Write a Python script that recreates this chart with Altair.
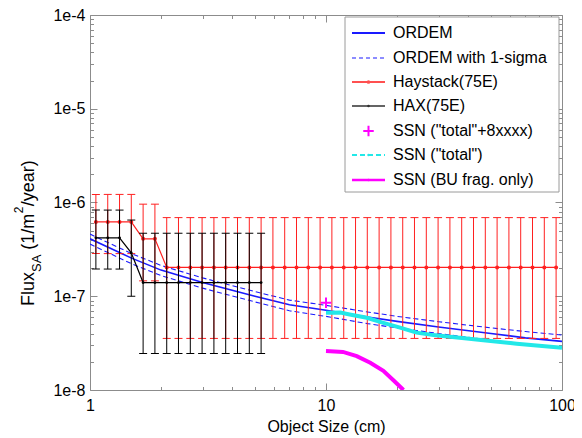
import altair as alt
import pandas as pd

FONT = "Liberation Sans"
W, H = 472, 375
GRAY = "#8c8c8c"
RED = "#ff2020"
BLUE = "#1a1aff"
CYAN = "#22e8e8"
MAGENTA = "#ff00ff"

# ---------------- data ----------------
bin_size = [1.059, 1.189, 1.334, 1.496, 1.679, 1.884, 2.114, 2.371, 2.661, 2.985,
            3.350, 3.758, 4.217, 4.732, 5.309, 5.957, 6.683, 7.499, 8.414, 9.441,
            10.59, 11.89, 13.34, 14.96, 16.79, 18.84, 21.14, 23.71, 26.61, 29.85,
            33.50, 37.58, 42.17, 47.32, 53.09, 59.57, 66.83, 74.99, 84.14, 94.41]

hay_flux = [6.2e-7, 6.2e-7, 6.2e-7, 6.2e-7, 4.1e-7, 4.1e-7, 2.03e-7, 2.03e-7, 2.03e-7, 2.03e-7,
            2.03e-7, 2.03e-7, 2.03e-7, 2.03e-7, 2.03e-7, 2.03e-7, 2.03e-7, 2.03e-7, 2.03e-7, 2.03e-7,
            2.03e-7, 2.03e-7, 2.03e-7, 2.03e-7, 2.03e-7, 2.03e-7, 2.03e-7, 2.03e-7, 2.03e-7, 2.03e-7,
            2.03e-7, 2.03e-7, 2.03e-7, 2.03e-7, 2.03e-7, 2.03e-7, 2.03e-7, 2.03e-7, 2.03e-7, 2.03e-7]
hay_lo = [2.85e-7, 2.85e-7, 2.85e-7, 2.85e-7, 1.46e-7, 1.46e-7, 3.55e-8, 3.55e-8, 3.55e-8, 3.55e-8,
          3.55e-8, 3.55e-8, 3.55e-8, 3.55e-8, 3.55e-8, 3.55e-8, 3.55e-8, 3.55e-8, 3.55e-8, 3.55e-8,
          3.55e-8, 3.55e-8, 3.55e-8, 3.55e-8, 3.55e-8, 3.55e-8, 3.55e-8, 3.55e-8, 3.55e-8, 3.55e-8,
          3.55e-8, 3.55e-8, 3.55e-8, 3.55e-8, 3.55e-8, 3.55e-8, 3.55e-8, 3.55e-8, 3.55e-8, 3.55e-8]
hay_hi = [1.22e-6, 1.22e-6, 1.22e-6, 1.22e-6, 9.6e-7, 9.6e-7, 6.9e-7, 6.9e-7, 6.9e-7, 6.9e-7,
          6.9e-7, 6.9e-7, 6.9e-7, 6.9e-7, 6.9e-7, 6.9e-7, 6.9e-7, 6.9e-7, 6.9e-7, 6.9e-7,
          6.9e-7, 6.9e-7, 6.9e-7, 6.9e-7, 6.9e-7, 6.9e-7, 6.9e-7, 6.9e-7, 6.9e-7, 6.9e-7,
          6.9e-7, 6.9e-7, 6.9e-7, 6.9e-7, 6.9e-7, 6.9e-7, 6.9e-7, 6.9e-7, 6.9e-7, 6.9e-7]

hax_size = [1.059, 1.189, 1.334, 1.496, 1.679, 1.884, 2.114, 2.371, 2.661, 2.985,
            3.350, 3.758, 4.217, 4.732, 5.309]
hax_flux = [4.2e-7, 4.2e-7, 4.2e-7, 2.9e-7, 1.4e-7, 1.4e-7, 1.4e-7, 1.4e-7, 1.4e-7, 1.4e-7,
            1.4e-7, 1.4e-7, 1.4e-7, 1.4e-7, 1.4e-7]
hax_lo = [1.95e-7, 1.95e-7, 1.95e-7, 1.0e-7, 2.45e-8, 2.45e-8, 2.45e-8, 2.45e-8, 2.45e-8, 2.45e-8,
          2.45e-8, 2.45e-8, 2.45e-8, 2.45e-8, 2.45e-8]
hax_hi = [8.3e-7, 8.3e-7, 8.3e-7, 6.5e-7, 4.7e-7, 4.7e-7, 4.7e-7, 4.7e-7, 4.7e-7, 4.7e-7,
          4.7e-7, 4.7e-7, 4.7e-7, 4.7e-7, 4.7e-7]

ordem_size = [1, 1.5, 2, 3, 5, 7, 10, 15, 20, 30, 50, 70, 100]
ordem_flux = [4.1e-7, 2.55e-7, 1.9e-7, 1.4e-7, 1.0e-7, 8.1e-8, 7.1e-8, 6.0e-8, 5.4e-8, 4.7e-8, 4.0e-8, 3.6e-8, 3.3e-8]
ordem_hi = [4.6e-7, 2.85e-7, 2.13e-7, 1.57e-7, 1.12e-7, 9.1e-8, 8.0e-8, 6.8e-8, 6.1e-8, 5.35e-8, 4.6e-8, 4.2e-8, 3.86e-8]
ordem_lo = [3.6e-7, 2.22e-7, 1.66e-7, 1.22e-7, 8.7e-8, 7.0e-8, 6.1e-8, 5.1e-8, 4.6e-8, 4.0e-8, 3.4e-8, 3.1e-8, 2.82e-8]

ssn_total_size = [10, 11.5, 12.6, 14.9, 17.5, 20.6, 24.2, 28.5, 33.5, 39.5, 46.4, 64.3, 100]
ssn_total_flux = [6.68e-8, 6.7e-8, 6.4e-8, 5.9e-8, 5.2e-8, 4.62e-8, 4.09e-8, 3.85e-8, 3.7e-8, 3.55e-8, 3.4e-8, 3.12e-8, 2.82e-8]

ssn_bu_size = [10, 11.8, 13.5, 15.4, 17.5, 19.3, 21.3]
ssn_bu_flux = [2.6e-8, 2.55e-8, 2.3e-8, 1.95e-8, 1.6e-8, 1.27e-8, 1.0e-8]

ssn_8x_size = [10]
ssn_8x_flux = [8.5e-8]

x_major = [1, 10, 100]
y_major = [1e-8, 1e-7, 1e-6, 1e-5, 1e-4]
x_ticks = [1, 2, 3, 4, 5, 6, 7, 8, 9, 10, 20, 30, 40, 50, 60, 70, 80, 90, 100]
y_ticks = [m * d for d in [1e-8, 1e-7, 1e-6, 1e-5] for m in range(1, 10)] + [1e-4]

legend_labels = ["ORDEM", "ORDEM with 1-sigma", "Haystack(75E)", "HAX(75E)",
                 "SSN (\"total\"+8xxxx)", "SSN (\"total\")", "SSN (BU frag. only)"]

# ---------------- scales ----------------
xs = alt.Scale(type="log", domain=[1, 100], nice=False)
ys = alt.Scale(type="log", domain=[1e-8, 1e-4], nice=False)


def X():
    return alt.X("s:Q", scale=xs, axis=None)


def Y(field="f"):
    return alt.Y(f"{field}:Q", scale=ys, axis=None)


hay = pd.DataFrame({"s": bin_size, "f": hay_flux, "lo": hay_lo, "hi": hay_hi})
hax = pd.DataFrame({"s": hax_size, "f": hax_flux, "lo": hax_lo, "hi": hax_hi})
ordem = pd.DataFrame({"s": ordem_size, "f": ordem_flux, "hi": ordem_hi, "lo": ordem_lo})
ssn_t = pd.DataFrame({"s": ssn_total_size, "f": ssn_total_flux})
ssn_bu = pd.DataFrame({"s": ssn_bu_size, "f": ssn_bu_flux})
ssn_8 = pd.DataFrame({"s": ssn_8x_size, "f": ssn_8x_flux})

layers = []

# ORDEM
layers.append(alt.Chart(ordem).mark_line(color=BLUE, strokeWidth=1.6, clip=True).encode(x=X(), y=Y("f")))
for fld in ["hi", "lo"]:
    layers.append(alt.Chart(ordem).mark_line(color=BLUE, strokeWidth=1.1, strokeDash=[5, 3], clip=True)
                  .encode(x=X(), y=Y(fld)))


def errorset(df, color, psize):
    out = []
    out.append(alt.Chart(df).mark_rule(color=color, strokeWidth=1, clip=True)
               .encode(x=X(), y=Y("lo"), y2="hi:Q"))
    for fld in ["lo", "hi"]:
        out.append(alt.Chart(df).mark_tick(color=color, orient="horizontal", size=8, thickness=1,
                                           opacity=1, clip=True)
                   .encode(x=X(), y=Y(fld)))
    out.append(alt.Chart(df).mark_line(color=color, strokeWidth=1.2, clip=True)
               .encode(x=X(), y=Y("f")))
    out.append(alt.Chart(df).mark_circle(color=color, size=psize, opacity=1, clip=True)
               .encode(x=X(), y=Y("f")))
    return out


layers += errorset(hay, RED, 16)
layers += errorset(hax, "black", 8)

PLUS = "M-1,0L1,0M0,-1L0,1"
layers.append(alt.Chart(ssn_8).mark_point(shape=PLUS, size=110, color=MAGENTA, strokeWidth=2,
                                          filled=False, opacity=1, clip=True)
              .encode(x=X(), y=Y("f")))
layers.append(alt.Chart(ssn_t).mark_line(color=CYAN, strokeWidth=4, clip=True).encode(x=X(), y=Y("f")))
layers.append(alt.Chart(ssn_bu).mark_line(color=MAGENTA, strokeWidth=4, clip=True).encode(x=X(), y=Y("f")))

# ---------------- axes ----------------
dummy = pd.DataFrame({"s": [1.0], "f": [1e-8]})
XMAJ = "datum.value == 1 || datum.value == 10 || datum.value == 100"
YMAJ = "abs(log(datum.value)/LN10 - round(log(datum.value)/LN10)) < 0.001"


def tsize(test):
    return {"condition": {"test": test, "value": 7}, "value": 3.5}


def axis_layer(xaxis, yaxis):
    return alt.Chart(dummy).mark_point(opacity=0).encode(
        x=alt.X("s:Q", scale=xs, axis=xaxis), y=alt.Y("f:Q", scale=ys, axis=yaxis))


lab_x = alt.Axis(orient="bottom", values=x_major, format="d", ticks=False, tickSize=0, domain=False,
                 grid=False, labelFont=FONT, labelFontSize=16, labelColor="black", labelPadding=7,
                 labelFlush=False, labelOverlap=False,
                 title="Object Size (cm)", titleFont=FONT, titleFontSize=16, titleFontWeight="normal",
                 titleColor="black", titlePadding=5)
lab_y = alt.Axis(orient="left", values=y_major, labelExpr="'1e' + round(log(datum.value)/LN10)",
                 ticks=False, tickSize=0, domain=False, grid=False, labelFont=FONT, labelFontSize=16,
                 labelColor="black", labelPadding=5, labelFlush=False, labelOverlap=False, title=None)


def tick_axis(orient, offset, vals, test):
    return alt.Axis(orient=orient, offset=offset, values=vals, labels=False, domain=False, grid=False,
                    tickColor=GRAY, tickWidth=1, tickSize=tsize(test), title=None)


layers.append(axis_layer(lab_x, lab_y))
layers.append(axis_layer(tick_axis("top", -H, x_ticks, XMAJ), tick_axis("right", -W, y_ticks, YMAJ)))
layers.append(axis_layer(tick_axis("bottom", -H, x_ticks, XMAJ), tick_axis("left", -W, y_ticks, YMAJ)))

# ---------------- y title (with sub/superscript) ----------------
one = pd.DataFrame({"a": [0]})
# (text, font size, baseline x, advance width in px)
ytitle_parts = [("Flux", 18, -56, 34.0), ("SA", 13, -49, 17.3 + 5.0), ("(1/m", 18, -56, 36.5),
                ("2", 12, -67, 7.0), ("/year)", 18, -56, 46.0)]
cur = 291.0
for txt, fs, px, adv in ytitle_parts:
    layers.append(alt.Chart(one).mark_text(text=txt, font=FONT, fontSize=fs, angle=270, align="left",
                                           baseline="alphabetic", color="black")
                  .encode(x=alt.value(px), y=alt.value(cur)))
    cur -= adv

# ---------------- legend ----------------
LX0, LX1, TX = 262, 295, 303
ly = [18, 43, 67, 91, 116, 140, 165]
layers.append(alt.Chart(one).mark_rect(fill="white", stroke="#9a9a9a", strokeWidth=1)
              .encode(x=alt.value(255), x2=alt.value(469), y=alt.value(2), y2=alt.value(177)))
leg_style = [
    dict(color=BLUE, width=1.8, dash=None, marker=None),
    dict(color=BLUE, width=1.1, dash=[4, 3], marker=None),
    dict(color="#ff5050", width=2, dash=None, marker="circle"),
    dict(color="#303030", width=1.5, dash=None, marker="dot"),
    dict(color=MAGENTA, width=0, dash=None, marker="plus"),
    dict(color=CYAN, width=2, dash=[5, 3], marker="dot"),
    dict(color=MAGENTA, width=2.5, dash=None, marker="dot"),
]
for lab, yy, st in zip(legend_labels, ly, leg_style):
    if st["width"] > 0:
        kw = dict(color=st["color"], strokeWidth=st["width"])
        if st["dash"]:
            kw["strokeDash"] = st["dash"]
        layers.append(alt.Chart(one).mark_rule(**kw)
                      .encode(x=alt.value(LX0), x2=alt.value(LX1), y=alt.value(yy)))
    if st["marker"] == "circle":
        layers.append(alt.Chart(one).mark_point(shape="circle", size=14, color=st["color"], filled=True,
                                                opacity=1).encode(x=alt.value((LX0 + LX1) / 2), y=alt.value(yy)))
    elif st["marker"] == "dot":
        layers.append(alt.Chart(one).mark_point(shape="circle", size=6, color=st["color"], filled=True,
                                                opacity=1).encode(x=alt.value((LX0 + LX1) / 2), y=alt.value(yy)))
    elif st["marker"] == "plus":
        layers.append(alt.Chart(one).mark_point(shape=PLUS, size=110, color=st["color"], strokeWidth=2,
                                                filled=False, opacity=1)
                      .encode(x=alt.value((LX0 + LX1) / 2), y=alt.value(yy)))
    layers.append(alt.Chart(one).mark_text(text=lab, font=FONT, fontSize=16, align="left",
                                           baseline="middle", color="black")
                  .encode(x=alt.value(TX), y=alt.value(yy)))

chart = (alt.layer(*layers)
         .resolve_axis(x="independent", y="independent")
         .properties(width=W, height=H,
                     padding={"left": 82, "top": 7, "right": 12, "bottom": 47},
                     autosize=alt.AutoSizeParams(type="none"),
                     background="white")
         .configure_view(stroke=GRAY, strokeWidth=1))

chart.save("out.html", embed_options={"renderer": "svg", "actions": False})
